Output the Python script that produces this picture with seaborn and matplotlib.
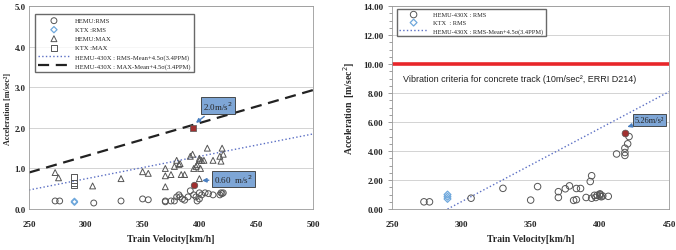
import numpy as np
import matplotlib
matplotlib.use("Agg")
import matplotlib.pyplot as plt
import seaborn as sns

# ---- left chart data ----
hemu_rms_v = [273, 277, 307, 331, 350, 355, 370, 370, 375, 378, 380, 382, 383, 385, 387,
              390, 392, 395, 397, 398, 400, 400, 402, 405, 408, 412, 418, 419, 420, 421]
hemu_rms_a = [0.2, 0.2, 0.15, 0.2, 0.25, 0.23, 0.2, 0.18, 0.2, 0.2, 0.3, 0.35, 0.3, 0.25, 0.22,
              0.3, 0.45, 0.35, 0.3, 0.2, 0.25, 0.4, 0.35, 0.4, 0.38, 0.35, 0.35, 0.4, 0.38, 0.4]
ktx_rms_v = [290, 290]
ktx_rms_a = [0.17, 0.19]
hemu_max_v = [273, 276, 306, 331, 350, 355, 370, 370, 370, 375, 378, 380, 382, 383, 384, 387,
              392, 394, 395, 397, 398, 400, 400, 401, 402, 404, 407, 412, 418, 419, 420, 421, 400]
hemu_max_a = [0.9, 0.77, 0.57, 0.75, 0.92, 0.88, 1.0, 0.82, 0.55, 0.85, 1.05, 1.2, 1.1, 1.12, 0.85, 0.85,
              1.3, 1.35, 1.0, 1.05, 1.1, 1.25, 1.2, 1.0, 1.2, 1.2, 1.5, 1.2, 1.3, 1.18, 1.5, 1.35, 0.75]
ktx_max_v = [290, 290, 290]
ktx_max_a = [0.8, 0.65, 0.58]
peak_max = (394, 2.0)
peak_rms = (395, 0.6)
rms_line_v = [250, 500]
rms_line_a = [0.47, 1.85]
max_line_v = [250, 500]
max_line_a = [0.9, 2.93]

# ---- right chart data ----
r_hemu_v = [273, 277, 307, 330, 350, 355, 370, 370, 375, 378, 381, 383, 383, 386, 390, 393, 394,
            394, 396, 397, 398, 400, 400, 400, 401, 402, 406, 412, 418, 418, 418, 420, 421]
r_hemu_a = [0.5, 0.5, 0.75, 1.43, 0.62, 1.55, 1.2, 0.8, 1.4, 1.6, 0.6, 1.42, 0.65, 1.42, 0.8, 1.9, 2.3,
            0.75, 0.95, 0.8, 0.95, 1.0, 0.9, 1.05, 0.85, 0.9, 0.88, 3.8, 3.7, 3.9, 4.2, 4.5, 5.0]
r_ktx_v = [290, 290, 290]
r_ktx_a = [0.7, 0.85, 1.0]
r_peak = (418, 5.26)
r_line_v = [290, 450]
r_line_a = [0.0, 8.1]
criteria = 10.0

sns.set_theme(style="white")
plt.rcParams["font.family"] = ["Liberation Serif", "DejaVu Serif"]

fig = plt.figure(figsize=(6.76, 2.51), dpi=100)
ax1 = fig.add_axes([0.0429, 0.163, 0.4201, 0.809])
ax2 = fig.add_axes([0.580, 0.163, 0.410, 0.809])

grey = "#555555"
blue_light = "#6fa8dc"
kw = dict(s=18, linewidth=0.7, zorder=3)

# left
sns.scatterplot(x=hemu_rms_v, y=hemu_rms_a, ax=ax1, marker="o", facecolor="none", edgecolor=grey,
                label="HEMU:RMS", **kw)
sns.scatterplot(x=ktx_rms_v, y=ktx_rms_a, ax=ax1, marker="D", facecolor="none", edgecolor=blue_light,
                label="KTX :RMS", s=10, linewidth=0.9, zorder=3)
sns.scatterplot(x=hemu_max_v, y=hemu_max_a, ax=ax1, marker="^", facecolor="none", edgecolor=grey,
                label="HEMU:MAX", **kw)
sns.scatterplot(x=ktx_max_v, y=ktx_max_a, ax=ax1, marker="s", facecolor="none", edgecolor=grey,
                label="KTX :MAX", **kw)
sns.lineplot(x=rms_line_v, y=rms_line_a, ax=ax1, color="#5b6fc4", linestyle=":", linewidth=1.0,
             label="HEMU-430X : RMS-Mean+4.5σ(3.4PPM)")
sns.lineplot(x=max_line_v, y=max_line_a, ax=ax1, color="#222222", linestyle=(0, (5, 3)), linewidth=1.6,
             label="HEMU-430X : MAX-Mean+4.5σ(3.4PPM)")
ax1.scatter(*peak_max, marker="s", s=14, color="#a03030", edgecolor="#555555", linewidth=0.5, zorder=4)
ax1.scatter(*peak_rms, marker="o", s=22, color="#a03030", edgecolor="#555555", linewidth=0.5, zorder=4)

box = dict(boxstyle="square,pad=0.25", fc="#7ea6d6", ec="#333333", lw=0.6)
arr = dict(arrowstyle="-|>", color="#4a7fc0", lw=1.0, mutation_scale=6)
ax1.annotate("2.0m/s$^2$", xy=(peak_max[0] + 1, peak_max[1] + 0.08), xytext=(403, 2.54), fontsize=6.5,
             va="center", bbox=box, arrowprops=arr, zorder=5)
ax1.annotate("0.60  m/s$^2$", xy=(peak_rms[0] + 5, 0.7), xytext=(413, 0.74), fontsize=6.5,
             va="center", bbox=box, arrowprops=arr, zorder=5)

ax1.set_xlim(250, 500)
ax1.set_ylim(0, 5)
ax1.set_xticks(np.arange(250, 501, 50))
ax1.set_yticks(np.arange(0, 5.1, 1))
ax1.set_yticklabels([f"{v:.1f}" for v in np.arange(0, 5.1, 1)])
ax1.set_xlabel("Train Velocity[km/h]", fontsize=7, fontweight="bold", labelpad=4)
ax1.set_ylabel("Acceleration [m/sec²]", fontsize=5.8, fontweight="bold")
ax1.yaxis.set_label_coords(-0.060, 0.5)
ax1.legend(loc="upper left", fontsize=4.8, frameon=True, fancybox=False, edgecolor="#444444",
           borderpad=0.5, labelspacing=0.5, handlelength=4.8, bbox_to_anchor=(0.008, 0.975))

# right
sns.scatterplot(x=r_hemu_v, y=r_hemu_a, ax=ax2, marker="o", facecolor="none", edgecolor=grey,
                label="HEMU-430X : RMS", s=22, linewidth=0.7, zorder=3)
sns.scatterplot(x=r_ktx_v, y=r_ktx_a, ax=ax2, marker="D", facecolor="none", edgecolor=blue_light,
                label="KTX  : RMS", s=12, linewidth=0.9, zorder=3)
sns.lineplot(x=r_line_v, y=r_line_a, ax=ax2, color="#5b6fc4", linestyle=":", linewidth=1.0,
             label="HEMU-430X : RMS-Mean+4.5σ(3.4PPM)")
ax2.axhline(criteria, color="#e8262a", linewidth=2.6, zorder=2)
ax2.text(258, 9.0, "Vibration criteria for concrete track (10m/sec², ERRI D214)", fontsize=6.5,
         va="center", family=["Liberation Sans", "DejaVu Sans"], color="#222222")
ax2.scatter(*r_peak, marker="o", s=24, color="#a03030", edgecolor="#555555", linewidth=0.5, zorder=4)
ax2.annotate("5.26m/s²", xy=(r_peak[0], r_peak[1] + 0.35), xytext=(425, 6.0), fontsize=6,
             bbox=box, arrowprops=arr, zorder=5)

ax2.set_xlim(250, 450)
ax2.set_ylim(0, 14)
ax2.set_xticks(np.arange(250, 451, 50))
ax2.set_yticks(np.arange(0, 14.1, 2))
ax2.set_yticklabels([f"{v:.2f}" for v in np.arange(0, 14.1, 2)])
ax2.set_yticks(np.arange(0, 14.1, 0.5), minor=True)
ax2.set_xlabel("Train Velocity[km/h]", fontsize=7, fontweight="bold", labelpad=4)
ax2.set_ylabel("Acceleration  [m/sec$^2$]", fontsize=7, fontweight="bold", labelpad=5)
ax2.legend(loc="upper left", fontsize=4.6, frameon=True, fancybox=False, edgecolor="#444444",
           borderpad=0.4, labelspacing=0.4, handlelength=4.5, bbox_to_anchor=(0.005, 1.0))

for ax in (ax1, ax2):
    ax.grid(axis="y", color="#cccccc", linewidth=0.6)
    ax.set_axisbelow(True)
    for sp in ax.spines.values():
        sp.set_color("#999999")
        sp.set_linewidth(0.6)
    ax.tick_params(axis="y", labelsize=6.5, length=0, pad=3)
    ax.tick_params(axis="x", labelsize=6.5, length=0, pad=8)
    for lab in ax.get_xticklabels() + ax.get_yticklabels():
        lab.set_fontweight("bold")
ax1.tick_params(axis="y", labelsize=6.3, pad=2.5)
ax2.tick_params(axis="y", which="minor", length=2, width=0.5, color="#777777", left=True)
ax2.tick_params(axis="y", which="major", length=3, width=0.5, color="#777777", left=True)

fig.savefig("out.png", dpi=100)
